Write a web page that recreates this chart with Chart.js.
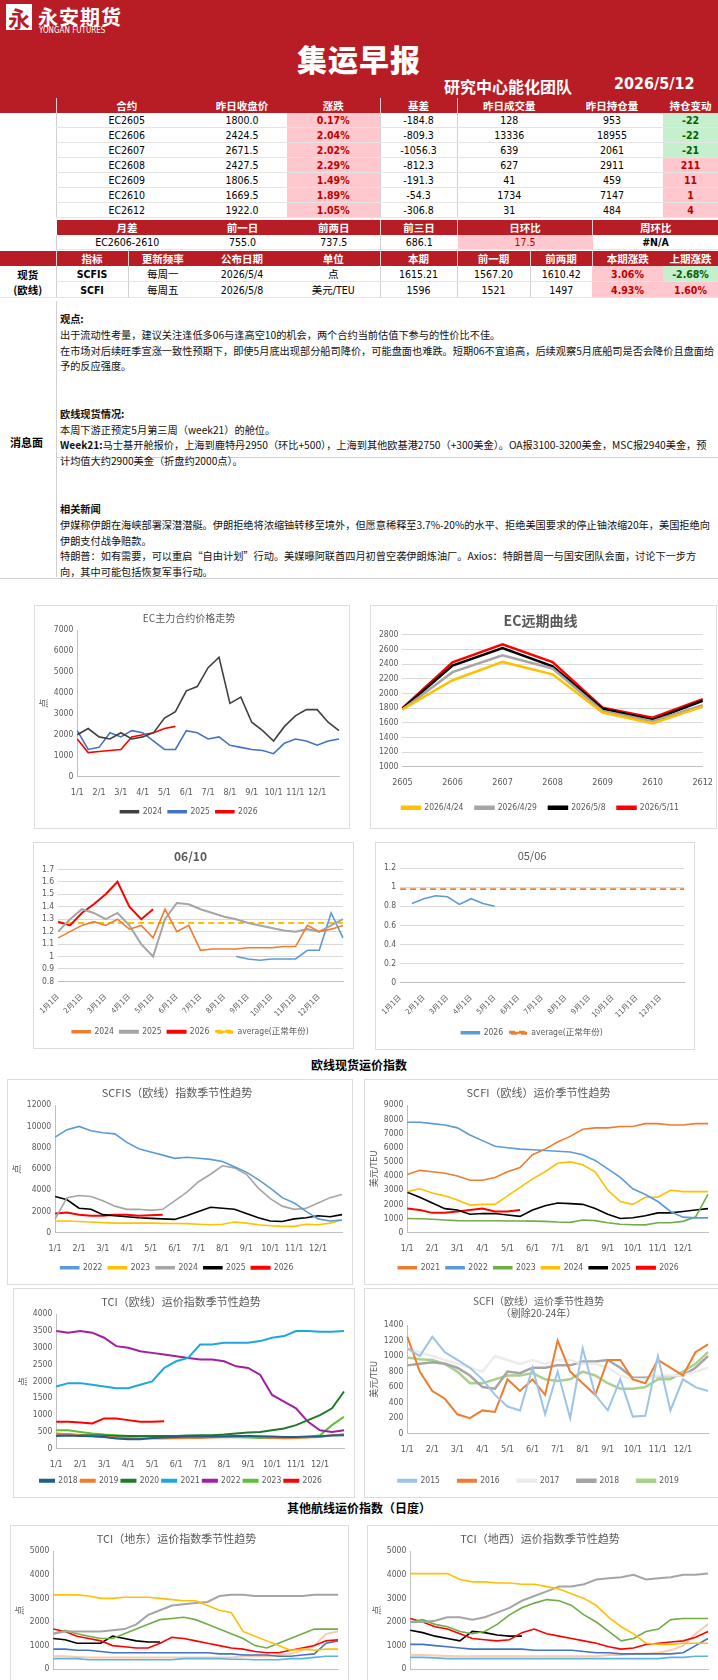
<!DOCTYPE html>
<html>
<head>
<meta charset="utf-8">
<script src="https://cdn.jsdelivr.net/npm/chart.js@4.4.0/dist/chart.umd.min.js"></script>
<style>
  body { margin: 0; width: 718px; height: 1680px; overflow: hidden; background: #fff;
         font-family: "Noto Sans CJK SC", "DejaVu Sans Condensed", sans-serif; position: relative; }
  .abs { position: absolute; }
  .head { left: 0; top: 0; width: 718px; height: 98px; background: #b81c25; color: #fff; }
  .logo { left: 6px; top: 4px; width: 26px; height: 26px; background: #fff; color: #b81c25;
          font-size: 22px; font-weight: 700; line-height: 26px; text-align: center; }
  table { border-collapse: collapse; table-layout: fixed; position: absolute; left: 0;
          font-family: "DejaVu Sans Condensed", "Noto Sans CJK SC", sans-serif; font-size: 10.5px; }
  td { height: 14px; padding: 0; text-align: center; border-bottom: 1px solid #e4e4e4; white-space: nowrap; overflow: hidden; }
  tr.hd td { background: #b81c25; color: #fff; font-weight: 700; font-family: "Noto Sans CJK SC", sans-serif; border-bottom: none; height: 15px; }
  .pk { background: #ffc7ce; color: #c00000; font-weight: 700; }
  .gr { background: #c6efce; color: #006100; font-weight: 700; }
  .vl { border-left: 1px solid #d0d0d0; }
  .news { left: 60px; top: 311px; width: 656px; font-size: 10.2px; line-height: 15.8px; color: #111; }
  .news b { font-weight: 700; }
  .box { border: 1px solid #dcdcdc; background: #fff; }
  .sec { left: 0; width: 718px; text-align: center; font-size: 12px; font-weight: 700; }
</style>
</head>
<body>
<div class="abs head">
  <div class="abs logo">永</div>
  <div class="abs" style="left:38px;top:2px;font-size:20px;font-weight:700;letter-spacing:1px">永安期货</div>
  <div class="abs" style="left:39px;top:26px;font-size:8px;font-family:'DejaVu Sans Condensed'">YONGAN FUTURES</div>
  <div class="abs" style="left:0;width:718px;top:36px;text-align:center;font-size:30px;font-weight:900;letter-spacing:1px">集运早报</div>
  <div class="abs" style="left:444px;top:74px;font-size:16px;font-weight:700">研究中心能化团队</div>
  <div class="abs" style="left:614px;top:74px;font-size:16px;font-weight:700;font-family:'DejaVu Sans Condensed'">2026/5/12</div>
</div>

<table style="top:98px;width:718px">
  <colgroup><col style="width:56px"><col style="width:141px"><col style="width:90px"><col style="width:93px"><col style="width:77px"><col style="width:104px"><col style="width:102px"><col style="width:55px"></colgroup>
  <tr class="hd"><td></td><td class="vl">合约</td><td>昨日收盘价</td><td>涨跌</td><td class="vl">基差</td><td class="vl">昨日成交量</td><td>昨日持仓量</td><td>持仓变动</td></tr>
  <tr><td rowspan="9" style="border-bottom:none"></td><td class="vl">EC2605</td><td>1800.0</td><td class="pk">0.17%</td><td class="vl">-184.8</td><td class="vl">128</td><td>953</td><td class="gr">-22</td></tr>
  <tr><td class="vl">EC2606</td><td>2424.5</td><td class="pk">2.04%</td><td class="vl">-809.3</td><td class="vl">13336</td><td>18955</td><td class="gr">-22</td></tr>
  <tr><td class="vl">EC2607</td><td>2671.5</td><td class="pk">2.02%</td><td class="vl">-1056.3</td><td class="vl">639</td><td>2061</td><td class="gr">-21</td></tr>
  <tr><td class="vl">EC2608</td><td>2427.5</td><td class="pk">2.29%</td><td class="vl">-812.3</td><td class="vl">627</td><td>2911</td><td class="pk">211</td></tr>
  <tr><td class="vl">EC2609</td><td>1806.5</td><td class="pk">1.49%</td><td class="vl">-191.3</td><td class="vl">41</td><td>459</td><td class="pk">11</td></tr>
  <tr><td class="vl">EC2610</td><td>1669.5</td><td class="pk">1.89%</td><td class="vl">-54.3</td><td class="vl">1734</td><td>7147</td><td class="pk">1</td></tr>
  <tr><td class="vl">EC2612</td><td>1922.0</td><td class="pk">1.05%</td><td class="vl">-306.8</td><td class="vl">31</td><td>484</td><td class="pk">4</td></tr>
</table>
<table style="top:220px;left:56px;width:662px">
  <colgroup><col style="width:141px"><col style="width:90px"><col style="width:93px"><col style="width:77px"><col style="width:135px"><col style="width:126px"></colgroup>
  <tr class="hd"><td>月差</td><td>前一日</td><td>前两日</td><td class="vl">前三日</td><td class="vl">日环比</td><td class="vl">周环比</td></tr>
  <tr><td class="vl">EC2606-2610</td><td>755.0</td><td>737.5</td><td class="vl">686.1</td><td class="pk" style="font-weight:400">17.5</td><td style="font-weight:700">#N/A</td></tr>
</table>
<table style="top:251px;width:718px">
  <colgroup><col style="width:56px"><col style="width:72px"><col style="width:69px"><col style="width:90px"><col style="width:93px"><col style="width:77px"><col style="width:73px"><col style="width:62px"><col style="width:71px"><col style="width:55px"></colgroup>
  <tr class="hd"><td></td><td class="vl">指标</td><td class="vl">更新频率</td><td>公布日期</td><td>单位</td><td class="vl">本期</td><td class="vl">前一期</td><td class="vl">前两期</td><td class="vl">本期涨跌</td><td>上期涨跌</td></tr>
  <tr><td rowspan="2" style="font-weight:700;font-family:'Noto Sans CJK SC';line-height:15px">现货<br>(欧线)</td><td class="vl" style="font-weight:700">SCFIS</td><td class="vl">每周一</td><td>2026/5/4</td><td>点</td><td class="vl">1615.21</td><td class="vl">1567.20</td><td class="vl">1610.42</td><td class="pk">3.06%</td><td class="gr">-2.68%</td></tr>
  <tr><td class="vl" style="font-weight:700">SCFI</td><td class="vl">每周五</td><td>2026/5/8</td><td>美元/TEU</td><td class="vl">1596</td><td class="vl">1521</td><td class="vl">1497</td><td class="pk">4.93%</td><td class="pk">1.60%</td></tr>
</table>

<div class="abs" style="left:56px;top:301px;width:1px;height:276px;background:#d0d0d0"></div>
<div class="abs" style="left:56px;top:457px;width:662px;height:1px;background:#d0d0d0"></div>
<div class="abs" style="left:0;top:578px;width:718px;height:1px;background:#d0d0d0"></div>
<div class="abs" style="left:10px;top:434px;font-size:11px;font-weight:700">消息面</div>
<div class="abs news">
  <b>观点:</b><br>
  出于流动性考量，建议关注逢低多06与逢高空10的机会，两个合约当前估值下参与的性价比不佳。<br>
  在市场对后续旺季宣涨一致性预期下，即使5月底出现部分船司降价，可能盘面也难跌。短期06不宜追高，后续观察5月底船司是否会降价且盘面给予的反应强度。<br>
  <br><br>
  <b>欧线现货情况:</b><br>
  本周下游正预定5月第三周（week21）的舱位。<br>
  <b>Week21:</b>马士基开舱报价，上海到鹿特丹2950（环比+500），上海到其他欧基港2750（+300美金）。OA报3100-3200美金，MSC报2940美金，预计均值大约2900美金（折盘约2000点）。<br>
  <div style="height:32px"></div>
  <b>相关新闻</b><br>
  伊媒称伊朗在海峡部署深潜潜艇。伊朗拒绝将浓缩铀转移至境外，但愿意稀释至3.7%-20%的水平、拒绝美国要求的停止铀浓缩20年，美国拒绝向伊朗支付战争赔款。<br>
  特朗普：如有需要，可以重启“自由计划”行动。美媒曝阿联酋四月初曾空袭伊朗炼油厂。Axios：特朗普周一与国安团队会面，讨论下一步方向，其中可能包括恢复军事行动。
</div>

<div class="abs box" style="left:34px;top:605px;width:314px;height:222px"><canvas id="c1"></canvas></div>
<div class="abs box" style="left:370px;top:605px;width:345px;height:222px"><canvas id="c2"></canvas></div>
<div class="abs box" style="left:33px;top:842px;width:319px;height:205px"><canvas id="c3"></canvas></div>
<div class="abs box" style="left:375px;top:842px;width:318px;height:206px"><canvas id="c4"></canvas></div>
<div class="abs sec" style="top:1056px">欧线现货运价指数</div>
<div class="abs box" style="left:7px;top:1079px;width:344px;height:204px"><canvas id="c5"></canvas></div>
<div class="abs box" style="left:364px;top:1079px;width:353px;height:204px"><canvas id="c6"></canvas></div>
<div class="abs box" style="left:13px;top:1288px;width:340px;height:208px"><canvas id="c7"></canvas></div>
<div class="abs box" style="left:364px;top:1288px;width:353px;height:208px"><canvas id="c8"></canvas></div>
<div class="abs sec" style="top:1499px">其他航线运价指数（日度）</div>
<div class="abs box" style="left:10px;top:1525px;width:337px;height:170px"><canvas id="c9"></canvas></div>
<div class="abs box" style="left:367px;top:1525px;width:350px;height:170px"><canvas id="c10"></canvas></div>

<script>
// half-month sample dates shared by the seasonal charts
const DAYS = ['1/1','1/15','2/1','2/15','3/1','3/15','4/1','4/15','5/1','5/15','6/1','6/15',
  '7/1','7/15','8/1','8/15','9/1','9/15','10/1','10/15','11/1','11/15','12/1','12/15','12/31'];

// EC main contract
const ec2024 = [2000,2300,1900,1800,2100,1800,1900,2100,2800,3100,4100,4300,5200,5700,3500,3800,2600,2200,1700,2400,2900,3200,3200,2600,2200];
const ec2025 = [2200,1300,1400,2100,1900,2200,2100,1700,1300,1300,2200,2100,1800,1900,1500,1400,1300,1250,1100,1600,1800,1700,1500,1700,1800];
const ec2026 = [1800,1150,1200,1250,1300,1900,2000,2100,2300,2400];

// EC forward curve
const contracts = ['2605','2606','2607','2608','2609','2610','2612'];
const curve0424 = [1780,2180,2430,2260,1740,1590,1820];
const curve0429 = [1780,2290,2520,2340,1760,1620,1840];
const curve0508 = [1790,2380,2620,2370,1790,1640,1900];
const curve0511 = [1800,2424.5,2671.5,2427.5,1806.5,1669.5,1922];

// 06/10 spread ratio
const r2024 = [1.15,1.2,1.25,1.28,1.25,1.3,1.22,1.25,1.15,1.38,1.2,1.25,1.05,1.06,1.06,1.06,1.07,1.07,1.07,1.08,1.08,1.25,1.2,1.22,1.25];
const r2025 = [1.2,1.3,1.38,1.35,1.3,1.35,1.25,1.1,1.0,1.3,1.43,1.42,1.38,1.35,1.32,1.3,1.27,1.25,1.23,1.21,1.2,1.22,1.2,1.25,1.3];
const r2026 = [1.28,1.25,1.35,1.42,1.5,1.6,1.4,1.3,1.38];
const rOther = [null,null,null,null,null,null,null,null,null,null,null,null,null,null,null,1.0,0.98,0.97,0.98,0.98,0.98,1.05,1.05,1.35,1.15];
const rAvg = Array(25).fill(1.27);

// 05/06 spread ratio
const s2026 = [null,0.83,0.88,0.91,0.9,0.82,0.88,0.83,0.8];
const sAvg = Array(25).fill(0.98);

// SCFIS Europe
const scfis2022 = [9000,9700,10000,9600,9400,9300,8500,7900,7600,7300,7000,7100,7000,6900,6700,6200,5700,5000,4200,3300,2800,2000,1300,1100,1200];
const scfis2023 = [1100,1100,1050,1000,950,900,900,900,900,880,870,850,800,750,800,1000,900,750,650,600,600,800,750,900,1200];
const scfis2024 = [1300,3300,3500,3400,3000,2500,2200,2200,2100,2200,3000,3800,4800,5500,6300,6100,5500,4200,3200,2500,2200,2300,2800,3300,3600];
const scfis2025 = [3400,3100,2300,2200,1700,1600,1500,1400,1350,1300,1250,1600,2000,2400,2300,2200,1800,1400,1100,1050,1300,1400,1600,1500,1700];
const scfis2026 = [1800,1900,1700,1600,1600,1700,1700,1600,1650,1700];

// SCFI Europe
const scfi2021 = [4100,4400,4300,4200,4000,3700,3700,3900,4300,4600,5500,5900,6400,6800,7300,7400,7400,7500,7500,7700,7700,7600,7600,7700,7700];
const scfi2022 = [7800,7800,7700,7600,7400,6900,6500,6100,6000,5900,5850,5800,5750,5700,5500,5100,4500,3900,3100,2700,2200,1500,1100,1050,1050];
const scfi2023 = [1000,980,950,900,850,840,840,840,830,830,820,800,750,730,900,850,700,600,560,550,700,700,800,1100,2700];
const scfi2024 = [2900,3100,2800,2600,2300,1950,2000,2000,2600,3200,3800,4300,4900,5000,4800,4300,3000,2200,2000,2500,2500,3000,2900,2900,2900];
const scfi2025 = [2850,2500,2100,1700,1600,1300,1350,1350,1250,1150,1600,1900,2100,2050,2000,1700,1300,1000,1050,1200,1400,1400,1500,1600,1700];
const scfi2026 = [1700,1600,1400,1400,1500,1600,1700,1500,1500,1600];

// TCI Europe
const tci2018 = [380,390,380,370,350,300,280,280,320,330,350,360,360,360,370,380,380,370,360,350,350,360,370,390,400];
const tci2019 = [450,430,400,380,350,330,320,310,300,300,310,320,320,330,340,350,360,340,320,310,320,330,350,400,430];
const tci2020 = [400,420,410,400,390,380,380,380,380,380,380,390,400,400,420,450,480,500,550,600,700,850,1000,1200,1700];
const tci2021 = [1850,1950,1950,1900,1850,1800,1800,1900,2000,2400,2600,2700,3100,3100,3150,3150,3150,3200,3300,3350,3500,3500,3480,3480,3500];
const tci2022 = [3500,3450,3500,3450,3300,3050,3000,2900,2850,2800,2750,2700,2650,2650,2600,2450,2400,2200,1600,1400,1200,800,550,500,550];
const tci2023 = [550,550,500,450,420,400,380,380,370,370,360,360,350,350,350,340,330,320,320,330,340,350,400,700,950];
const tci2026 = [800,800,780,750,900,900,850,800,800,820];

// SCFI Europe excluding 2020-24
const ex2015 = [1100,1000,1250,1050,950,850,700,500,350,300,850,250,800,200,1100,500,300,700,220,230,1000,300,700,600,550];
const ex2016 = [1250,800,550,450,250,200,300,280,700,550,700,500,1200,800,650,500,950,950,700,650,950,850,750,1050,1150];
const ex2017 = [1100,1050,1000,950,900,850,800,1000,950,900,950,900,950,950,900,900,850,750,700,700,750,750,750,800,850];
const ex2018 = [880,900,920,900,850,750,600,580,800,780,850,850,880,880,930,930,950,850,720,720,740,740,750,850,1000];
const ex2019 = [980,960,950,900,800,650,650,700,750,750,780,700,680,700,800,750,650,580,580,600,700,700,800,900,1050];

// TCI Med East
const deYellow = [3150,3150,3150,3100,3000,3000,3050,3050,3050,3000,2950,2900,2900,2700,2500,2400,1600,1400,1200,1000,800,850,800,850,850];
const deGray = [1500,1600,1600,1600,1600,1650,1700,1900,2300,2500,2700,2750,2800,2850,3100,3150,3150,3100,3100,3100,3100,3100,3150,3150,3150];
const deGreen = [1500,1650,1500,1400,1300,1300,1500,1700,1900,2100,2150,2200,2100,1900,1700,1500,1300,1000,900,1100,1300,1500,1700,1700,1700];
const deRed = [1700,1600,1400,1300,1200,1000,950,900,900,1100,1350,1300,1200,1100,1000,900,850,750,700,700,800,900,1000,1200,1250];
const deBlack = [1300,1250,1100,1100,1100,1400,1300,1200,1150,1150];
const deBlue = [850,850,800,800,750,700,700,700,700,700,700,700,700,700,650,650,600,600,600,550,550,600,650,1100,1200];
const deLight = [450,450,450,400,400,400,400,400,400,400,400,450,450,450,450,420,420,400,400,400,450,450,500,550,550];
const dePink = [550,550,520,500,500,500,500,500,500,500,500,500,500,500,500,500,550,550,550,600,650,800,1000,1500,1600];

// TCI Med West
const dxYellow = [4050,4050,4050,4050,3800,3700,3700,3650,3650,3600,3600,3500,3400,3200,3000,2700,2200,1800,1500,1100,1050,1050,1100,1100,1100];
const dxGray = [2000,2000,2050,2200,2200,2100,2200,2400,2600,2900,3100,3300,3500,3500,3600,3800,3850,3900,4000,3800,3850,3900,4000,4000,4050];
const dxGreen = [2000,2100,1900,1800,1600,1500,1600,1900,2300,2600,2800,2950,2900,2700,2300,2000,1600,1200,1300,1600,1700,2100,2150,2150,2150];
const dxRed = [2150,2000,1800,1700,1500,1300,1250,1200,1250,1550,1700,1500,1400,1300,1200,1100,950,850,900,1050,1100,1150,1200,1350,1600];
const dxBlack = [1650,1550,1400,1300,1200,1600,1550,1450,1400,1400];
const dxBlue = [1050,1050,1000,950,900,850,850,850,850,850,800,800,800,800,750,700,700,650,650,650,650,650,700,1000,1300];
const dxLight = [500,500,480,450,450,450,450,450,450,450,450,450,450,450,450,450,450,450,450,450,450,500,500,550,550];
const dxPink = [600,600,580,560,550,550,550,550,550,550,550,550,550,550,550,550,600,600,650,650,700,800,1000,1500,1900];

Chart.defaults.font.family = "'DejaVu Sans Condensed', 'Noto Sans CJK SC', sans-serif";
Chart.defaults.font.size = 9;
Chart.defaults.color = '#595959';
Chart.defaults.animation = false;

function ds(label, data, color, width = 1.6, dash) {
  return { label, data, borderColor: color, backgroundColor: color, borderWidth: width,
           borderDash: dash || [], pointRadius: 0, tension: 0, fill: false };
}

function monthTick(rotated) {
  return function (v, i) {
    const l = this.getLabelForValue(v);
    const [m, d] = l.split('/');
    if (d !== '1') return '';
    return rotated ? m + '月1日' : l;
  };
}

function makeChart(id, labels, sets, opt) {
  const yTitle = opt.yTitle ? { display: true, text: opt.yTitle, font: { size: 9 }, padding: 0 } : { display: false };
  new Chart(document.getElementById(id), {
    type: 'line',
    data: { labels, datasets: sets },
    options: {
      responsive: true, maintainAspectRatio: false,
      layout: { padding: opt.padding || { left: 4, right: 10, top: 0, bottom: 2 } },
      plugins: {
        title: { display: true, text: opt.title, font: { size: opt.titleSize || 11, family: "'Noto Sans CJK SC'", weight: opt.titleWeight || 'normal' }, color: '#595959', padding: { top: 6, bottom: 6 } },
        legend: { display: opt.legend !== false, position: 'bottom',
          labels: { boxWidth: opt.legendBox || 18, boxHeight: 2, padding: opt.legendPad || 6, font: { size: 8.5 },
                    filter: it => it.text !== '' } },
        tooltip: { enabled: false }
      },
      scales: {
        x: { grid: { display: false }, border: { color: '#bfbfbf' },
             ticks: opt.catTicks ? { font: { size: 9 } } : { autoSkip: false, maxRotation: opt.rotated ? 45 : 0, minRotation: opt.rotated ? 45 : 0, callback: monthTick(opt.rotated), font: { size: opt.rotated ? 7.5 : 9 } } },
        y: { min: opt.min, max: opt.max, title: yTitle,
             grid: { display: !!opt.grid, color: '#d9d9d9', drawTicks: false },
             border: { display: !opt.grid, color: '#bfbfbf' },
             ticks: { stepSize: opt.step, autoSkip: false, padding: 4, font: { size: 8.5 },
                      callback: v => String(Math.round(v * 100) / 100) } }
      }
    }
  });
}

makeChart('c1', DAYS, [
  ds('2024', ec2024, '#404040'), ds('2025', ec2025, '#4472c4'), ds('2026', ec2026, '#ff0000')
], { title: 'EC主力合约价格走势', min: 0, max: 7000, step: 1000, yTitle: '点', titleSize: 10 });

makeChart('c2', contracts, [
  ds('2026/4/24', curve0424, '#ffc000', 2.5), ds('2026/4/29', curve0429, '#a5a5a5', 2.5),
  ds('2026/5/8', curve0508, '#000000', 2.5), ds('2026/5/11', curve0511, '#ff0000', 2.5)
], { title: 'EC远期曲线', min: 1000, max: 2800, step: 200, grid: true, catTicks: true, titleSize: 14, titleWeight: 'bold', padding: { left: 4, right: 10, top: 0, bottom: 6 }, legendPad: 12 });

makeChart('c3', DAYS, [
  ds('2024', r2024, '#ed7d31'), ds('2025', r2025, '#a5a5a5', 2), ds('2026', r2026, '#ff0000', 2),
  ds('', rOther, '#5b9bd5'), ds('average(正常年份)', rAvg, '#ffc000', 2, [6, 4])
], { title: '06/10', min: 0.8, max: 1.7, step: 0.1, grid: true, rotated: true, titleSize: 12, titleWeight: 'bold' });

makeChart('c4', DAYS, [
  ds('2026', s2026, '#5b9bd5'), ds('average(正常年份)', sAvg, '#ed7d31', 1.8, [6, 4])
], { title: '05/06', min: 0, max: 1.2, step: 0.2, grid: true, rotated: true, titleSize: 11 });

makeChart('c5', DAYS, [
  ds('2022', scfis2022, '#5b9bd5'), ds('2023', scfis2023, '#ffc000'), ds('2024', scfis2024, '#a5a5a5'),
  ds('2025', scfis2025, '#000000'), ds('2026', scfis2026, '#ff0000', 2)
], { title: 'SCFIS（欧线）指数季节性趋势', min: 0, max: 12000, step: 2000, yTitle: '点' });

makeChart('c6', DAYS, [
  ds('2021', scfi2021, '#ed7d31'), ds('2022', scfi2022, '#5b9bd5'), ds('2023', scfi2023, '#70ad47'),
  ds('2024', scfi2024, '#ffc000'), ds('2025', scfi2025, '#000000'), ds('2026', scfi2026, '#ff0000', 2)
], { title: 'SCFI（欧线）运价季节性趋势', min: 0, max: 9000, step: 1000, yTitle: '美元/TEU' });

makeChart('c7', DAYS, [
  ds('2018', tci2018, '#1f5f8b', 2), ds('2019', tci2019, '#ed7d31', 2), ds('2020', tci2020, '#217a2b', 2),
  ds('2021', tci2021, '#1ca7e0', 2), ds('2022', tci2022, '#a020a0', 2), ds('2023', tci2023, '#5cbf3a', 2),
  ds('2026', tci2026, '#ff0000', 2)
], { title: 'TCI（欧线）运价指数季节性趋势', min: 0, max: 4000, step: 500, yTitle: '点', legendPad: 3, legendBox: 14 });

makeChart('c8', DAYS, [
  ds('2015', ex2015, '#9dc3e6', 2), ds('2016', ex2016, '#ed7d31', 2), ds('2017', ex2017, '#ececec', 2.5),
  ds('2018', ex2018, '#a5a5a5', 2.5), ds('2019', ex2019, '#a9d18e', 2.5)
], { title: ['SCFI（欧线）运价季节性趋势', '（剔除20-24年）'], min: 0, max: 1400, step: 200, yTitle: '美元/TEU', titleSize: 10, legendPad: 18 });

makeChart('c9', DAYS, [
  ds('a', deYellow, '#ffc000'), ds('b', deGray, '#a5a5a5', 2), ds('c', deGreen, '#70ad47'),
  ds('d', deRed, '#ff0000'), ds('e', deBlack, '#000000'), ds('f', deBlue, '#4472c4'),
  ds('g', deLight, '#5bb4e5'), ds('h', dePink, '#f8cbad', 2)
], { title: 'TCI（地东）运价指数季节性趋势', min: 0, max: 5000, step: 1000, yTitle: '点', legend: false });

makeChart('c10', DAYS, [
  ds('a', dxYellow, '#ffc000'), ds('b', dxGray, '#a5a5a5', 2), ds('c', dxGreen, '#70ad47'),
  ds('d', dxRed, '#ff0000'), ds('e', dxBlack, '#000000'), ds('f', dxBlue, '#4472c4'),
  ds('g', dxLight, '#5bb4e5'), ds('h', dxPink, '#f8cbad', 2)
], { title: 'TCI（地西）运价指数季节性趋势', min: 0, max: 5000, step: 1000, yTitle: '点', legend: false });
</script>
</body>
</html>
